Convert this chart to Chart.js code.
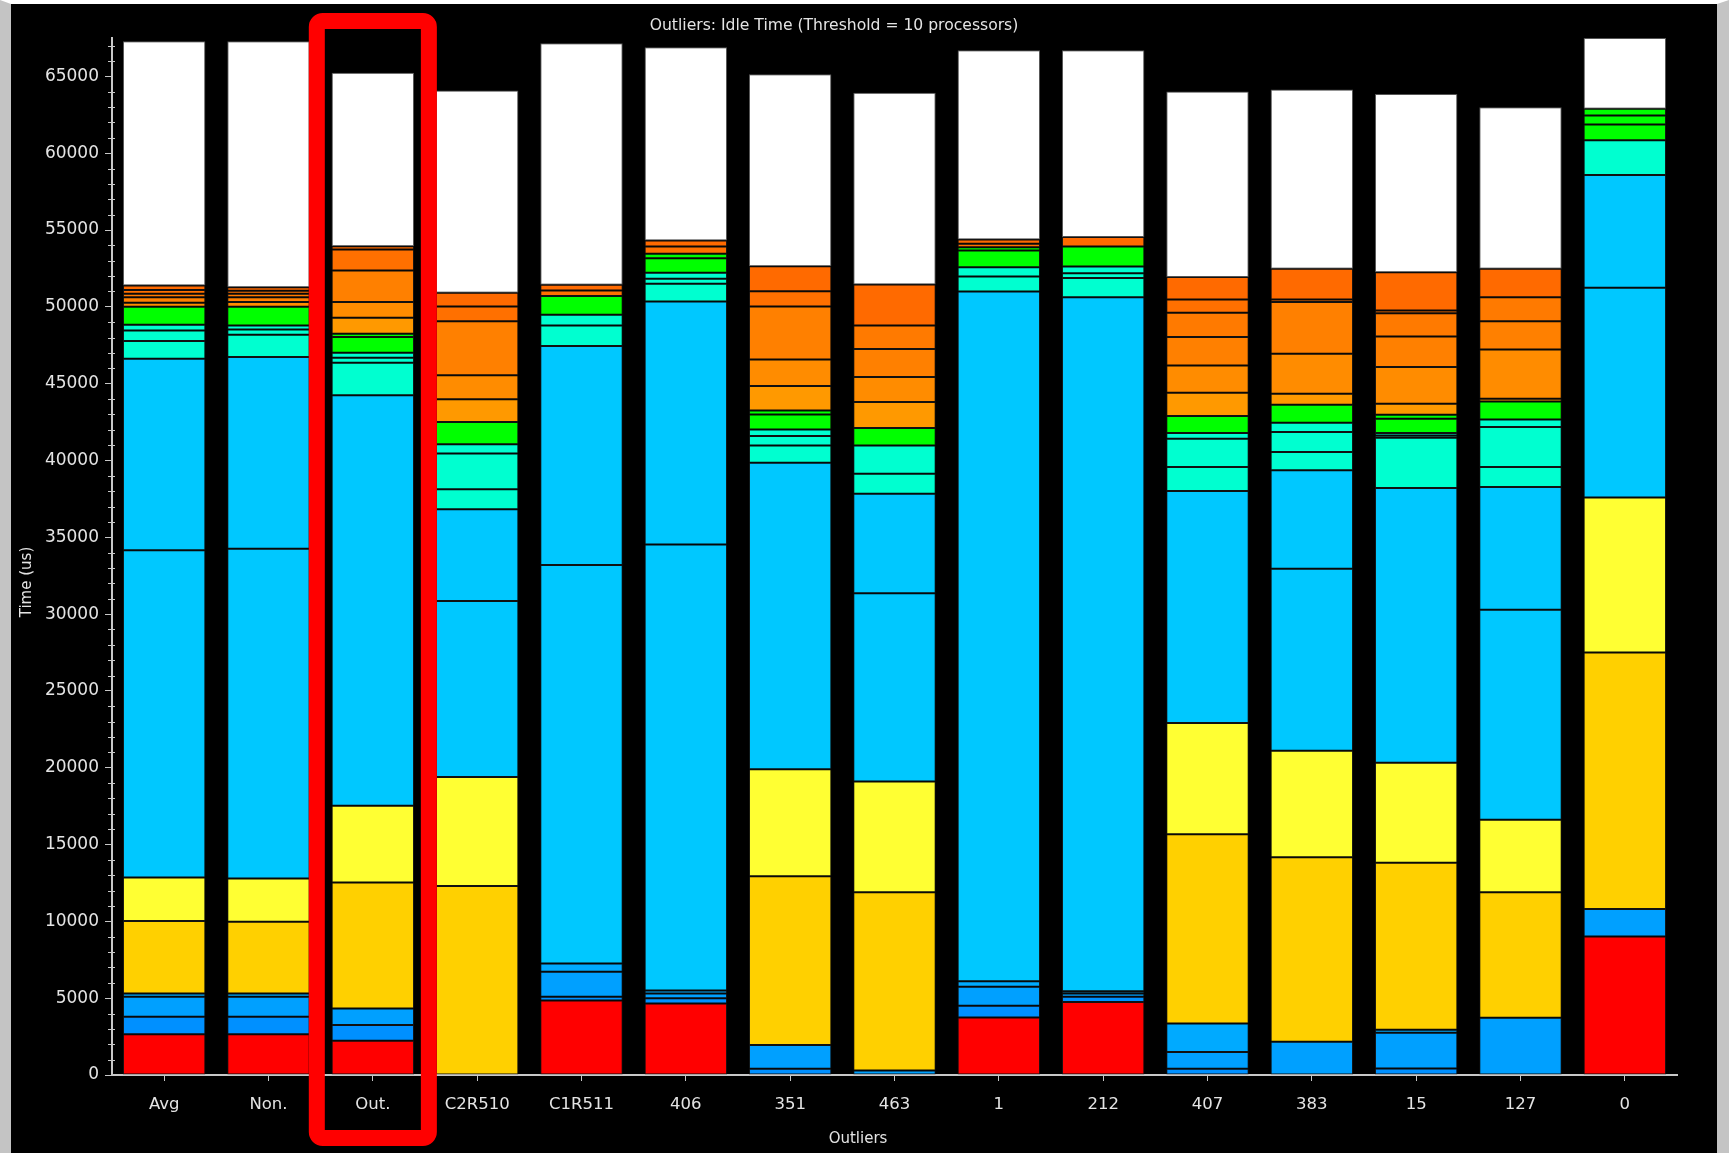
<!DOCTYPE html>
<html>
<head>
<meta charset="utf-8">
<script src="https://cdn.jsdelivr.net/npm/chart.js@4.4.1/dist/chart.umd.min.js"></script>
<style>
  html, body { margin: 0; padding: 0; background: #000; }
  #wrap {
    position: absolute; left: 0; top: 0;
    width: 1706px; height: 1149px;
    border-top: 4px solid #fff;
    border-left: 11px solid #c4c4c4;
    border-right: 12px solid #c4c4c4;
    background: #000;
  }
</style>
</head>
<body>
<div id="wrap"><canvas id="idle" width="1706" height="1149"></canvas></div>
<script>
// categories on the x axis
const categories = ['Avg', 'Non.', 'Out.', 'C2R510', 'C1R511', '406', '351', '463', '1', '212', '407', '383', '15', '127', '0'];

// stacked segments, bottom to top (us), null = segment not present
const red    = [2660, 2660, 2230, null, 4850, 4650, null, null, 3750, 4750, null, null, null, null, 9010];
const blueA  = [1130, 1130, 1020, null, 250, 350, 400, null, 750, 350, 400, null, 430, null, null];
const blueB  = [1300, 1300, 1080, null, 1620, 300, 1550, 300, 1250, 200, 1100, 2160, 2320, 3720, 1800];
const blueC  = [220, 220, null, null, 530, 200, null, null, 350, 150, 1850, null, 200, null, null];
const gold   = [4720, 4660, 8200, 12300, null, null, 10980, 11600, null, null, 12320, 12020, 10870, 8180, 16690];
const yellow = [2820, 2820, 4990, 7100, null, null, 6970, 7200, null, null, 7240, 6920, 6510, 4710, 10090];
const sky1   = [21300, 21460, 26720, 11450, 25950, 29030, 19960, 12250, 44900, 45180, 15110, 11850, 17875, 13670, 13660];
const sky2   = [12470, 12480, null, 5970, 14245, 15820, null, 6490, null, null, null, 6410, null, 7990, 7330];
const aqua1  = [1150, 1455, 2120, 1300, 1345, 1150, 1120, 1300, 980, 1240, 1550, 1190, 3275, 1300, 2270];
const aqua2  = [690, 345, 330, 2340, 700, 330, 610, 1840, 600, 320, 1850, 1300, 150, 2605, null];
const aqua3  = [370, 260, 320, 590, null, 390, 430, null, null, 440, 365, 610, 155, 500, null];
const green1 = [1170, 1215, 1020, 1450, 1210, 950, 980, 1130, 1090, 1300, 1105, 1170, 935, 1170, 1020];
const green2 = [null, null, 220, null, null, 280, 260, null, 215, null, null, null, 260, null, 580];
const green3 = [null, null, null, null, null, null, null, null, null, null, null, null, null, null, 450];
const or1    = [null, null, 1040, 1480, null, null, 1580, 1690, null, null, 1520, 720, 720, 175, null];
const or2    = [260, 305, 1020, 1560, null, null, 1740, 1630, null, null, 1780, 2600, 2380, 3210, null];
const or3    = [365, 320, 2060, 3530, null, null, 3450, 1820, null, null, 1840, 3360, 1995, 1840, null];
const or4    = [220, 220, null, null, null, null, null, 1540, null, null, 1590, null, 1515, 1560, null];
const or5    = [260, 190, 1365, 960, 370, 480, 990, null, 215, null, 865, 175, 175, null, null];
const or6    = [280, 240, 215, 890, 370, 390, 1630, 2670, 285, 610, 1450, 1995, 2495, 1850, null];
const white  = [15900, 16010, 11280, 13160, 15720, 12580, 12490, 12470, 12315, 12160, 12075, 11660, 11600, 10520, 4600];

const yTop = 67500;
const highlighted = 2; // the "Out." column gets the red box

const layers = [
  [red, '#ff0000'], [blueA, '#0090ff'], [blueB, '#00a0ff'], [blueC, '#00aaff'],
  [gold, '#ffd000'], [yellow, '#ffff33'], [sky1, '#00c8ff'], [sky2, '#00c8ff'],
  [aqua1, '#00ffd0'], [aqua2, '#00ffd0'], [aqua3, '#00ffd0'],
  [green1, '#00ff00'], [green2, '#00ff00'], [green3, '#00ff00'],
  [or1, '#ff9900'], [or2, '#ff8c00'], [or3, '#ff8000'], [or4, '#ff7a00'], [or5, '#ff7000'], [or6, '#ff6a00'],
  [white, '#ffffff']
];

const datasets = layers.map(function(l, i) {
  return {
    label: 'L' + i,
    data: l[0],
    backgroundColor: l[1],
    borderColor: l[1] === '#ffffff' ? '#555' : 'rgba(20,20,20,0.85)',
    borderWidth: 1,
    borderSkipped: false,
    barPercentage: 0.79,
    categoryPercentage: 1.0
  };
});

const font = 'DejaVu Sans';
const textColor = '#e4e4e4';

// titles, minor y ticks and the red box around the highlighted column
const extrasPlugin = {
  id: 'extras',
  afterDraw(chart) {
    const c = chart.ctx;
    const xs = chart.scales.x;
    const ys = chart.scales.y;
    const area = chart.chartArea;
    c.save();

    // minor ticks crossing the y axis
    c.strokeStyle = '#c8c8c8';
    c.lineWidth = 1;
    for (let v = 1000; v < yTop; v += 1000) {
      if (v % 5000 === 0) continue;
      const y = Math.round(ys.getPixelForValue(v)) + 0.5;
      c.beginPath();
      c.moveTo(area.left - 4, y);
      c.lineTo(area.left + 3, y);
      c.stroke();
    }

    c.fillStyle = textColor;
    c.textAlign = 'center';
    c.textBaseline = 'middle';
    c.font = '15.6px "' + font + '"';
    c.fillText('Outliers: Idle Time (Threshold = 10 processors)', 823, 22);
    c.font = '15px "' + font + '"';
    c.fillText('Outliers', 847, 1135);
    c.translate(16, 578);
    c.rotate(-Math.PI / 2);
    c.fillText('Time (us)', 0, 0);
    c.setTransform(1, 0, 0, 1, 0, 0);

    const cx = xs.getPixelForValue(highlighted);
    const half = (xs.getPixelForValue(1) - xs.getPixelForValue(0)) * 0.537;
    const top = area.top - 17;
    const bottom = area.bottom + 63;
    c.strokeStyle = '#ff0000';
    c.lineWidth = 16;
    c.lineJoin = 'round';
    c.beginPath();
    c.roundRect(cx - half, top, half * 2, bottom - top, 6);
    c.stroke();
    c.restore();
  }
};

new Chart(document.getElementById('idle'), {
  type: 'bar',
  data: { labels: categories, datasets: datasets },
  plugins: [extrasPlugin],
  options: {
    responsive: false,
    animation: false,
    layout: { padding: { left: 0, right: 40, top: 34, bottom: 0 } },
    plugins: {
      legend: { display: false },
      tooltip: { enabled: false },
      title: { display: false }
    },
    scales: {
      x: {
        stacked: true,
        grid: { display: true, drawOnChartArea: false, offset: false, color: '#c8c8c8', tickLength: 6 },
        border: { color: '#c8c8c8', width: 2 },
        ticks: { color: textColor, font: { family: font, size: 16.5 }, padding: 14, maxRotation: 0, autoSkip: false },
        afterFit(s) { s.height = 78; }
      },
      y: {
        stacked: true,
        min: 0,
        max: yTop,
        grid: { display: true, drawOnChartArea: false, color: '#c8c8c8', tickLength: 7 },
        border: { color: '#c8c8c8', width: 2 },
        ticks: {
          autoSkip: false,
          color: textColor,
          font: { family: font, size: 17 },
          padding: 6
        },
        afterBuildTicks(s) {
          const t = [];
          for (let v = 0; v <= 65000; v += 5000) t.push({ value: v });
          s.ticks = t;
        },
        afterTickToLabelConversion(s) {
          s.ticks.forEach(function(t) { t.label = String(t.value); });
        },
        afterFit(s) { s.width = 101; }
      }
    }
  }
});
</script>
</body>
</html>
